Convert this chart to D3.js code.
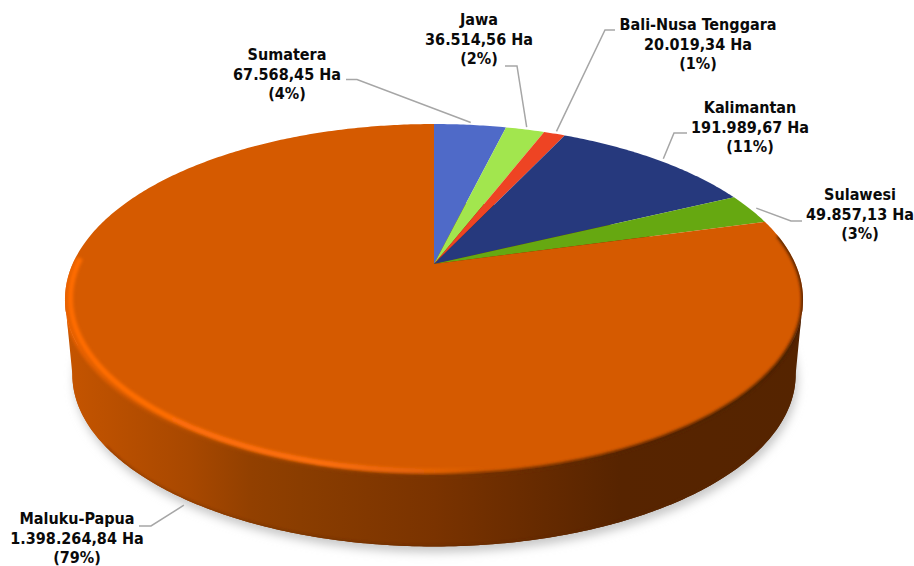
<!DOCTYPE html>
<html>
<head>
<meta charset="utf-8">
<script src="https://cdn.jsdelivr.net/npm/d3@7"></script>
<style>
html, body { margin: 0; padding: 0; background: #fff; }
svg { display: block; }
text { font-family: "DejaVu Sans Condensed", "DejaVu Sans", sans-serif; font-weight: bold; font-size: 16px; fill: #0a0a0a; text-anchor: middle; }
</style>
</head>
<body>
<div id="chart"></div>
<script>
const regions = ["Sumatera", "Jawa", "Bali-Nusa Tenggara", "Kalimantan", "Sulawesi", "Maluku-Papua"];
const hectares = [67568.45, 36514.56, 20019.34, 191989.67, 49857.13, 1398264.84];
const percents = [4, 2, 1, 11, 3, 79];
const colors = ["#4f6ac8", "#a2e64e", "#ee4423", "#26397d", "#66a811", "#d55a00"];

const width = 914, height = 566;

// pie is tilted with some perspective, so the hub is not the middle of the ellipse
const cx = 434, cy = 264, rx = 361.4, ry = 168.3, persp = 0.2023;
const depth = 75.7, baseScale = 0.98;

function project(a, r, base) {
  const u = Math.sin(a) * r, v = -Math.cos(a) * r;
  const w = 1 - persp * v;
  const s = base ? baseScale : 1;
  return [cx + s * rx * u / w, cy + (base ? depth : 0) + s * ry * v / w];
}

function arcPoints(a0, a1, base, r = 1) {
  const n = Math.max(2, Math.ceil(Math.abs(a1 - a0) * 90));
  return d3.range(n + 1).map(i => project(a0 + (a1 - a0) * i / n, r, base));
}

const line = d3.line();
const rad = d => d * Math.PI / 180;
const fmt = d3.formatLocale({ decimal: ",", thousands: ".", grouping: [3], currency: ["", ""] }).format(",.2f");

const svg = d3.select("#chart").append("svg").attr("width", width).attr("height", height);
const defs = svg.append("defs");

function gradient(id, x1, x2, stops) {
  const g = defs.append("linearGradient").attr("id", id)
    .attr("gradientUnits", "userSpaceOnUse")
    .attr("x1", x1).attr("x2", x2).attr("y1", 0).attr("y2", 0);
  stops.forEach(s => g.append("stop").attr("offset", s[0]).attr("stop-color", s[1])
    .attr("stop-opacity", s[2] === undefined ? 1 : s[2]));
}

function blur(id, amount) {
  defs.append("filter").attr("id", id).attr("x", "-10%").attr("y", "-10%").attr("width", "120%").attr("height", "120%")
    .append("feGaussianBlur").attr("stdDeviation", amount);
}

gradient("side", 70, 800, [[0, "#c45400"], [0.164, "#a84800"], [0.247, "#924000"], [0.315, "#8a3d00"],
  [0.5, "#7a3300"], [0.616, "#6a2c00"], [0.753, "#572400"], [1, "#552400"]]);
gradient("edge", 65, 803, [[0, "#f06400"], [0.18, "#b04c00"], [0.5, "#7a3300"], [0.75, "#572400"], [1, "#4a1f00"]]);
gradient("glow", 65, 803, [[0, "#ff6c00"], [0.35, "#ff7010", 0.95], [0.5, "#ff7010", 0.35], [0.57, "#ff7010", 0]]);
blur("soft", 5);
blur("softEdge", 1.5);

const full = rad(360);

// drop shadow under the base
svg.append("path")
  .attr("d", line(arcPoints(0, full, true)) + "Z")
  .attr("transform", "translate(2,6)")
  .attr("fill", "#c8c8c8")
  .attr("filter", "url(#soft)");

// outer wall, between the two side tangents of the disc
const tangent = Math.acos(-persp);
const wallTop = arcPoints(tangent, full - tangent, false);
const wallBase = arcPoints(full - tangent, tangent, true);
const hullPath = line(wallTop.concat(wallBase)) + "Z";
svg.append("path").attr("d", hullPath).attr("fill", "url(#side)");
svg.append("path")
  .attr("d", line(arcPoints(0, full, true)) + "Z")
  .attr("fill", "url(#side)");

const pie = d3.pie().sort(null)(hectares);

// top surface
svg.append("g").selectAll("path")
  .data(pie)
  .join("path")
  .attr("d", d => line([[cx, cy]].concat(arcPoints(d.startAngle, d.endAngle, false))) + "Z")
  .attr("fill", (d, i) => colors[i]);

// bevel: soft edge into the wall, then the bright band just inside it
const clip = defs.append("clipPath").attr("id", "solid");
clip.append("path").attr("d", line(arcPoints(0, full, false)) + "Z");
clip.append("path").attr("d", hullPath);
clip.append("path").attr("d", line(arcPoints(0, full, true)) + "Z");
const bevel = svg.append("g").attr("clip-path", "url(#solid)");
bevel.append("path")
  .attr("d", line(arcPoints(rad(80), rad(272), false)))
  .attr("fill", "none")
  .attr("stroke", "url(#edge)")
  .attr("stroke-width", 3.5)
  .attr("filter", "url(#softEdge)");
bevel.append("path")
  .attr("d", line(arcPoints(rad(150), rad(272), false, 0.986)))
  .attr("fill", "none")
  .attr("stroke", "url(#glow)")
  .attr("stroke-width", 5.5)
  .attr("filter", "url(#softEdge)");

// thin darker line at the foot of the wall
bevel.append("path")
  .attr("d", line(arcPoints(rad(125), rad(235), true)))
  .attr("fill", "none")
  .attr("stroke", "#5a2600")
  .attr("stroke-opacity", 0.55)
  .attr("stroke-width", 2)
  .attr("filter", "url(#softEdge)");

// label centres and leader elbows, in the order of regions
const labelPos = [[287, 60], [479, 25], [698, 30], [750, 113], [860, 200], [77, 524]];
const leaderStart = [[346, 79.5], [505, 66], [615, 30], [687, 133], [802, 221], [139, 526]];
const leaderElbow = [[357, 79.5], [517, 66], [605, 30], [674, 133], [791, 221], [151, 526]];
const leaderShift = [0, 0, 0, 0.5, 0, -2.2];

svg.append("g").selectAll("path")
  .data(pie)
  .join("path")
  .attr("d", (d, i) => {
    const mid = (d.startAngle + d.endAngle) / 2 + rad(leaderShift[i]);
    const onWall = i === regions.length - 1;
    return line([leaderStart[i], leaderElbow[i], project(mid, 1.02, onWall)]);
  })
  .attr("fill", "none")
  .attr("stroke", "#a6a6a6")
  .attr("stroke-width", 1.5);

const labels = svg.append("g").selectAll("text")
  .data(regions)
  .join("text")
  .attr("transform", (d, i) => `translate(${labelPos[i]})`);
labels.append("tspan").attr("x", 0).attr("y", 0).text(d => d);
labels.append("tspan").attr("x", 0).attr("y", 19.5).text((d, i) => fmt(hectares[i]) + " Ha");
labels.append("tspan").attr("x", 0).attr("y", 39).text((d, i) => `(${percents[i]}%)`);
</script>
</body>
</html>
